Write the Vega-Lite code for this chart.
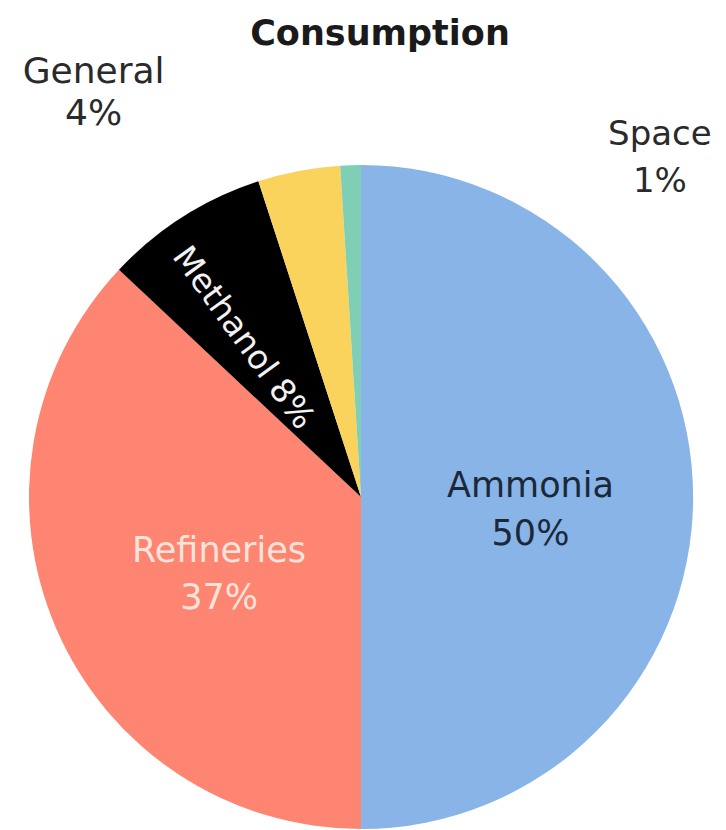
{
  "$schema": "https://vega.github.io/schema/vega-lite/v6.json",
  "autosize": "none",
  "width": 722,
  "height": 666,
  "padding": {"top": 164, "left": 0, "right": 4, "bottom": 0},
  "background": "white",
  "config": {"view": {"stroke": null}, "font": "DejaVu Sans"},
  "title": {
    "text": "Consumption",
    "font": "DejaVu Sans",
    "fontSize": 35,
    "fontWeight": "bold",
    "color": "#1a1a1a",
    "baseline": "alphabetic",
    "offset": 6,
    "dy": 73,
    "dx": 19,
    "anchor": "middle"
  },
  "data": {
    "values": [
      {"cat": "Ammonia", "pct": 50, "ord": 1, "label": "Ammonia\n50%"},
      {"cat": "Refineries", "pct": 37, "ord": 2, "label": "Refineries\n37%"},
      {"cat": "Methanol", "pct": 8, "ord": 3, "label": "Methanol 8%"},
      {"cat": "General", "pct": 4, "ord": 4, "label": "General\n4%"},
      {"cat": "Space", "pct": 1, "ord": 5, "label": "Space\n1%"}
    ]
  },
  "encoding": {
    "theta": {"field": "pct", "type": "quantitative", "stack": true},
    "order": {"field": "ord", "type": "quantitative"}
  },
  "layer": [
    {
      "mark": {"type": "arc", "radius": 332},
      "encoding": {
        "color": {
          "field": "cat",
          "type": "nominal",
          "scale": {
            "domain": ["Ammonia", "Refineries", "Methanol", "General", "Space"],
            "range": ["#88b4e8", "#fd8571", "#000000", "#f9d35c", "#7fcfb6"]
          },
          "legend": null
        }
      }
    },
    {
      "mark": {"type": "text", "radius": 170, "thetaOffset": 0.077, "dy": -24, "fontSize": 35, "lineBreak": "\n", "lineHeight": 48, "color": "#1c2838", "align": "center", "baseline": "middle"},
      "encoding": {
        "text": {"condition": {"test": "datum.cat === 'Ammonia'", "field": "label"}, "value": ""}
      }
    },
    {
      "mark": {"type": "text", "radius": 162, "thetaOffset": -0.094, "dy": -24, "fontSize": 35, "lineBreak": "\n", "lineHeight": 47, "color": "#fde4da", "align": "center", "baseline": "middle"},
      "encoding": {
        "text": {"condition": {"test": "datum.cat === 'Refineries'", "field": "label"}, "value": ""}
      }
    },
    {
      "mark": {"type": "text", "radius": 198, "thetaOffset": -0.073, "fontSize": 33, "angle": 54, "color": "#f2f2f2", "align": "center", "baseline": "middle"},
      "encoding": {
        "text": {"condition": {"test": "datum.cat === 'Methanol'", "field": "label"}, "value": ""}
      }
    },
    {
      "mark": {"type": "text", "radius": 486, "thetaOffset": -0.394, "dy": -19, "fontSize": 36, "lineBreak": "\n", "lineHeight": 42, "color": "#2a2a2a", "align": "center", "baseline": "middle"},
      "encoding": {
        "text": {"condition": {"test": "datum.cat === 'General'", "field": "label"}, "value": ""}
      }
    },
    {
      "mark": {"type": "text", "radius": 451, "thetaOffset": 0.756, "dy": -24, "fontSize": 34, "lineBreak": "\n", "lineHeight": 47, "color": "#2a2a2a", "align": "center", "baseline": "middle"},
      "encoding": {
        "text": {"condition": {"test": "datum.cat === 'Space'", "field": "label"}, "value": ""}
      }
    }
  ]
}
